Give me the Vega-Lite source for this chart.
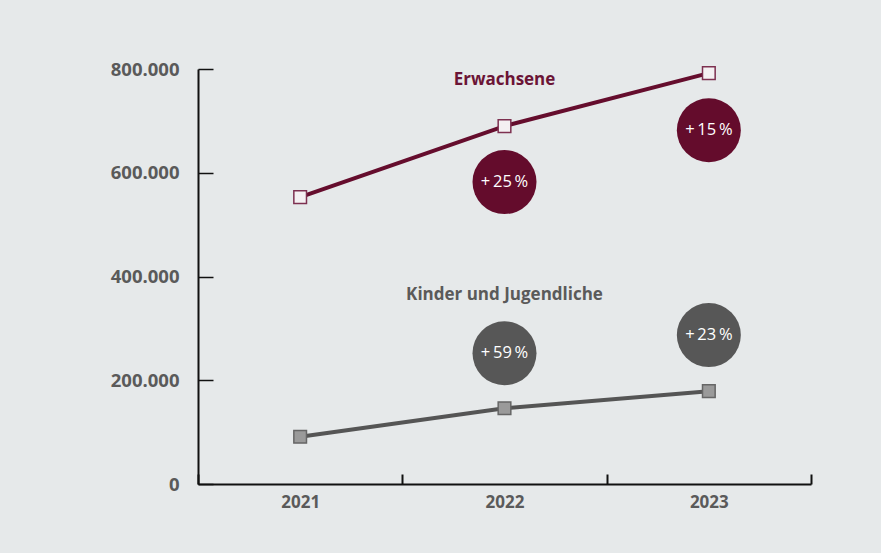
{
  "$schema": "https://vega.github.io/schema/vega-lite/v6.json",
  "width": 613,
  "height": 415,
  "autosize": {"type": "none"},
  "padding": {"left": 198, "top": 69, "right": 70, "bottom": 69},
  "background": "#e6e9ea",
  "config": {"view": {"stroke": null}, "font": "Open Sans"},
  "datasets": {
    "series": [
      {"group": "Erwachsene", "year": "2021", "value": 553000},
      {"group": "Erwachsene", "year": "2022", "value": 690000},
      {"group": "Erwachsene", "year": "2023", "value": 792000},
      {"group": "Kinder und Jugendliche", "year": "2021", "value": 91000},
      {"group": "Kinder und Jugendliche", "year": "2022", "value": 146000},
      {"group": "Kinder und Jugendliche", "year": "2023", "value": 179000}
    ],
    "bubbles": [
      {"group": "Erwachsene", "year": "2022", "pos": 582000, "label": "+\u200925\u2009%"},
      {"group": "Erwachsene", "year": "2023", "pos": 682000, "label": "+\u200915\u2009%"},
      {"group": "Kinder und Jugendliche", "year": "2022", "pos": 252000, "label": "+\u200959\u2009%"},
      {"group": "Kinder und Jugendliche", "year": "2023", "pos": 287000, "label": "+\u200923\u2009%"}
    ],
    "names": [
      {"group": "Erwachsene", "year": "2022", "pos": 779000},
      {"group": "Kinder und Jugendliche", "year": "2022", "pos": 364000}
    ]
  },
  "layer": [
    {
      "data": {"name": "series"},
      "mark": {"type": "line", "strokeWidth": 4},
      "encoding": {
        "x": {
          "field": "year", "type": "ordinal",
          "scale": {"domain": ["2021", "2022", "2023"], "paddingInner": 0, "paddingOuter": 0},
          "axis": {
            "title": null, "labelAngle": 0, "tickBand": "extent", "tickSize": -10,
            "tickColor": "#111111", "tickWidth": 2, "domainColor": "#111111", "domainWidth": 2,
            "labelPadding": 20, "labelFontSize": 17, "labelFontWeight": "bold", "labelColor": "#5a5a5a"
          }
        },
        "y": {
          "field": "value", "type": "quantitative",
          "scale": {"domain": [0, 800000], "nice": false},
          "axis": {
            "title": null, "grid": false, "values": [0, 200000, 400000, 600000, 800000],
            "labelExpr": "replace(format(datum.value, ','), ',', '.')",
            "tickSize": -15, "tickColor": "#111111", "tickWidth": 1.5,
            "domainColor": "#111111", "domainWidth": 2,
            "labelPadding": 34, "labelFontSize": 18.5, "labelFontWeight": "bold", "labelColor": "#5a5a5a"
          }
        },
        "color": {
          "field": "group", "type": "nominal",
          "scale": {"domain": ["Erwachsene", "Kinder und Jugendliche"], "range": ["#650d2d", "#555555"]},
          "legend": null
        }
      }
    },
    {
      "data": {"name": "series"},
      "mark": {"type": "point", "shape": "square", "filled": true, "size": 160, "strokeWidth": 1.5, "opacity": 1},
      "encoding": {
        "x": {"field": "year", "type": "ordinal"},
        "y": {"field": "value", "type": "quantitative"},
        "fill": {
          "field": "group", "type": "nominal",
          "scale": {"domain": ["Erwachsene", "Kinder und Jugendliche"], "range": ["#f4f0f2", "#9a9a9a"]},
          "legend": null
        },
        "stroke": {
          "field": "group", "type": "nominal",
          "scale": {"domain": ["Erwachsene", "Kinder und Jugendliche"], "range": ["#7d3050", "#666666"]},
          "legend": null
        }
      }
    },
    {
      "data": {"name": "bubbles"},
      "mark": {"type": "circle", "size": 4096, "opacity": 1},
      "encoding": {
        "x": {"field": "year", "type": "ordinal"},
        "y": {"field": "pos", "type": "quantitative"},
        "color": {
          "field": "group", "type": "nominal",
          "scale": {"domain": ["Erwachsene", "Kinder und Jugendliche"], "range": ["#640c2c", "#575757"]},
          "legend": null
        }
      }
    },
    {
      "data": {"name": "bubbles"},
      "mark": {"type": "text", "color": "white", "fontSize": 16.5, "align": "center", "baseline": "middle"},
      "encoding": {
        "x": {"field": "year", "type": "ordinal"},
        "y": {"field": "pos", "type": "quantitative"},
        "text": {"field": "label"}
      }
    },
    {
      "data": {"name": "names"},
      "mark": {"type": "text", "fontSize": 17, "fontWeight": "bold", "align": "center", "baseline": "middle"},
      "encoding": {
        "x": {"field": "year", "type": "ordinal"},
        "y": {"field": "pos", "type": "quantitative"},
        "text": {"field": "group"},
        "color": {
          "field": "group", "type": "nominal",
          "scale": {"domain": ["Erwachsene", "Kinder und Jugendliche"], "range": ["#6b1436", "#5a5a5a"]},
          "legend": null
        }
      }
    }
  ],
  "resolve": {"scale": {"color": "independent", "fill": "independent", "stroke": "independent"}}
}
